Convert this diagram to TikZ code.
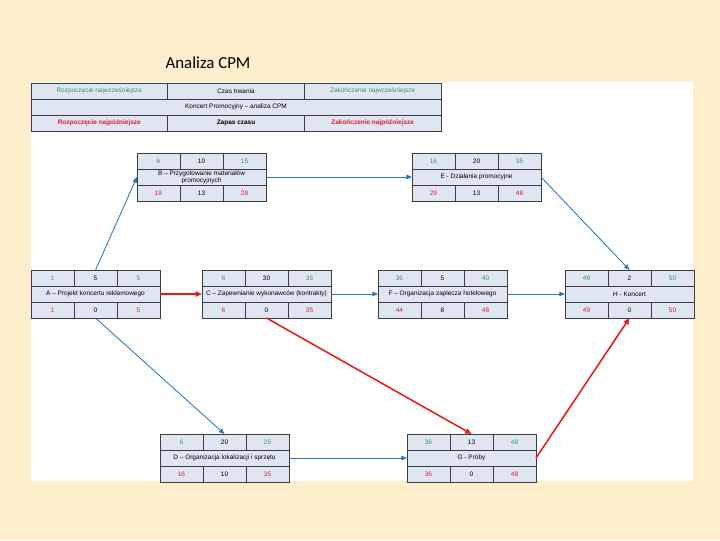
\documentclass[tikz,border=0pt]{standalone}
\usepackage{fontspec}
\setmainfont{Liberation Sans}
\newfontfamily\titlefont{Carlito}
\definecolor{CpmGreen}{RGB}{40,160,100}
\definecolor{CpmRed}{RGB}{220,30,50}
\definecolor{CpmBlue}{RGB}{46,117,182}
\definecolor{CpmArrowRed}{RGB}{228,28,28}
\definecolor{CpmFill}{RGB}{224,229,242}
\definecolor{CpmLine}{RGB}{60,60,70}
\definecolor{SlideBg}{RGB}{253,238,204}
\usepackage{tikz}
\usetikzlibrary{
    arrows.meta,
    positioning,
}

\newcommand{\cpmtask}[9]{%
    \node[namecell] (#1) at #2 {#6};
    \node[cell, anchor=south west, text=CpmGreen] (#1-es) at (#1.north west) {#3};
    \node[cell, right=0pt of #1-es] (#1-d) {#4};
    \node[cell, right=0pt of #1-d, text=CpmGreen] (#1-ef) {#5};
    \node[cell, anchor=north west, text=CpmRed] (#1-ls) at (#1.south west) {#7};
    \node[cell, right=0pt of #1-ls] (#1-sl) {#8};
    \node[cell, right=0pt of #1-sl, text=CpmRed] (#1-lf) {#9};
}

\begin{document}
\begin{tikzpicture}[
    x=0.025cm, y=-0.025cm,
    cell/.style={rectangle, draw=CpmLine, line width=0.35pt, fill=CpmFill, minimum width=1.075cm, minimum height=0.4cm, inner sep=0pt, outer sep=0pt, font=\fontsize{4.6}{5.2}\selectfont, align=center},
    namecell/.style={cell, minimum width=3.225cm},
    legcell/.style={cell, minimum width=3.4167cm},
    bluearr/.style={-{Triangle[length=4pt, width=3.2pt]}, line width=0.6pt, CpmBlue},
    redarr/.style={-{Triangle[length=4.5pt, width=3.8pt]}, line width=1.1pt, CpmArrowRed},
    title/.style={font=\titlefont\fontsize{12}{14}\selectfont, inner sep=0pt}
]
    \fill[SlideBg] (0,0) rectangle (720,540);
    \fill[white] (31,82) rectangle (693,481);
    \node[title] (title) at (208,63) {Analiza CPM};

    \node[legcell, minimum width=10.25cm] (leg) at (236,107) {Koncert Promocyjny – analiza CPM};
    \node[legcell, anchor=south west, text=CpmGreen] (leg-es) at (leg.north west) {Rozpoczęcie najwcześniejsze};
    \node[legcell, right=0pt of leg-es] (leg-d) {Czas trwania};
    \node[legcell, right=0pt of leg-d, text=CpmGreen] (leg-ef) {Zakończenie najwcześniejsze};
    \node[legcell, anchor=north west, text=CpmRed, font=\fontsize{4.6}{5.2}\selectfont\bfseries] (leg-ls) at (leg.south west) {Rozpoczęcie najpóźniejsze};
    \node[legcell, right=0pt of leg-ls, font=\fontsize{4.6}{5.2}\selectfont\bfseries] (leg-sl) {Zapas czasu};
    \node[legcell, right=0pt of leg-sl, text=CpmRed, font=\fontsize{4.6}{5.2}\selectfont\bfseries] (leg-lf) {Zakończenie najpóźniejsze};

    \cpmtask{A}{(95.5,294)}{1}{5}{5}{A – Projekt koncertu reklamowego}{1}{0}{5}
    \cpmtask{B}{(201.5,177)}{6}{10}{15}{B – Przygotowanie materiałów\\promocyjnych}{19}{13}{28}
    \cpmtask{E}{(476.5,177)}{16}{20}{35}{E - Działania promocyjne}{29}{13}{48}
    \cpmtask{C}{(266.5,294)}{6}{30}{35}{C – Zapewnianie wykonawców (kontrakty)}{6}{0}{35}
    \cpmtask{F}{(442.5,294)}{36}{5}{40}{F – Organizacja zaplecza hotelowego}{44}{8}{48}
    \cpmtask{H}{(629.5,294)}{49}{2}{50}{H - Koncert}{49}{0}{50}
    \cpmtask{D}{(224.5,458)}{6}{20}{25}{D – Organizacja lokalizacji i sprzętu}{16}{10}{35}
    \cpmtask{G}{(471.5,458)}{36}{13}{48}{G - Próby}{36}{0}{48}

    \draw[bluearr] (A-d.north) -- (B.west);
    \draw[bluearr] (B.east) -- (E.west);
    \draw[bluearr] (E.east) -- (H-d.north);
    \draw[redarr] (A.east) -- (C.west);
    \draw[bluearr] (C.east) -- (F.west);
    \draw[bluearr] (F.east) -- (H.west);
    \draw[bluearr] (A-sl.south) -- (D-d.north);
    \draw[redarr] (C-sl.south) -- (G-d.north);
    \draw[bluearr] (D.east) -- (G.west);
    \draw[redarr] (G.east) -- (H-sl.south);
\end{tikzpicture}
\end{document}
